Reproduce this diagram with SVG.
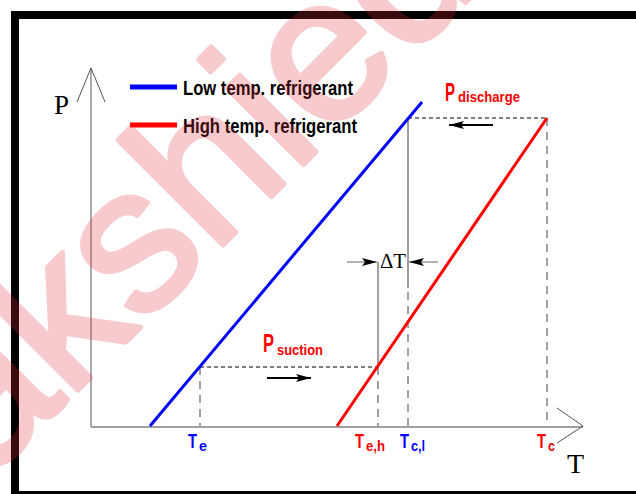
<svg xmlns="http://www.w3.org/2000/svg" width="636" height="494" viewBox="0 0 636 494">
<style>
.frame{fill:#000}
.axis{stroke:#555;stroke-width:1;fill:none}
.xaxis{stroke:#a0a0a0;stroke-width:2;fill:none}
.guide{stroke:#a0a0a0;stroke-width:2;fill:none}
.gdash{stroke:#a0a0a0;stroke-width:2;fill:none;stroke-dasharray:8 6}
.hdash{stroke:#000;stroke-width:1;fill:none;stroke-dasharray:4 3}
.blue{stroke:#0000ff;stroke-width:3;fill:none}
.red{stroke:#ff0000;stroke-width:3;fill:none}
.arr{stroke:#000;stroke-width:2;fill:none}
.dim{stroke:#999;stroke-width:1.5;fill:none}
.leg{font-family:"Liberation Sans",Arial,sans-serif;font-size:20px;font-weight:bold;fill:#000}
.serif{font-family:"Liberation Serif","Times New Roman",serif;fill:#000}
.lab{font-family:"Liberation Sans",Arial,sans-serif;font-weight:bold}
.rd{fill:#ff0000}
.bl{fill:#0000ff}
.wm{font-family:"Liberation Sans",Arial,sans-serif;font-size:205px;fill:#e0303c;stroke:#e0303c;stroke-width:5;stroke-linejoin:round;opacity:0.25}
</style>
<defs>
<marker id="ahd" viewBox="0 0 15 8" refX="15" refY="4" markerWidth="15" markerHeight="8" markerUnits="userSpaceOnUse" orient="auto">
<path d="M0,0 L15,4 L0,8 L3,4 Z" fill="#000"/>
</marker>
</defs>

<g id="frame">
<rect class="frame" x="11" y="11" width="625" height="8"/>
<rect class="frame" x="11" y="11" width="8" height="483"/>
<rect class="frame" x="11" y="491" width="625" height="3"/>
</g>

<g id="axes">
<line class="axis" x1="91" y1="68" x2="91" y2="427"/>
<polyline class="axis" points="77,102 91,68 105,102"/>
<line class="xaxis" x1="91" y1="427" x2="583" y2="427"/>
<polyline class="axis" points="557,408 583,426 557,443"/>
<text class="serif" x="54" y="114" font-size="27">P</text>
<text class="serif" x="567" y="473" font-size="28">T</text>
</g>

<g id="legend">
<line x1="130" y1="87" x2="177" y2="87" stroke="#0000ff" stroke-width="5"/>
<text class="leg" x="183" y="95" textLength="170" lengthAdjust="spacingAndGlyphs">Low temp. refrigerant</text>
<line x1="130" y1="125" x2="177" y2="125" stroke="#ff0000" stroke-width="5"/>
<text class="leg" x="183" y="133" textLength="174" lengthAdjust="spacingAndGlyphs">High temp. refrigerant</text>
</g>

<g id="connectors">
<line class="gdash" x1="200" y1="367" x2="200" y2="427"/>
<line class="guide" x1="378" y1="262" x2="378" y2="367"/>
<line class="gdash" x1="378" y1="367" x2="378" y2="427"/>
<line class="guide" x1="408" y1="118" x2="408" y2="288"/>
<line class="gdash" x1="408" y1="292" x2="408" y2="427"/>
<line class="gdash" x1="547" y1="118" x2="547" y2="427"/>
<line class="hdash" x1="200" y1="367" x2="378" y2="367"/>
<line class="hdash" x1="408" y1="118" x2="547" y2="118"/>
<line class="arr" x1="493" y1="125" x2="449" y2="125" marker-end="url(#ahd)"/>
<line class="arr" x1="267" y1="378" x2="311" y2="378" marker-end="url(#ahd)"/>
<line class="dim" x1="347" y1="262" x2="377" y2="262" marker-end="url(#ahd)"/>
<line class="dim" x1="438" y1="262" x2="409" y2="262" marker-end="url(#ahd)"/>
</g>

<g id="low-temp-line">
<line class="blue" x1="150" y1="426" x2="422" y2="102"/>
</g>
<g id="high-temp-line">
<line class="red" x1="337" y1="426" x2="547" y2="118"/>
</g>

<g id="p-discharge">
<text class="lab rd" x="445" y="101" font-size="25" textLength="10" lengthAdjust="spacingAndGlyphs">P</text>
<text class="lab rd" x="458" y="102" font-size="15" textLength="62" lengthAdjust="spacingAndGlyphs">discharge</text>
</g>
<g id="p-suction">
<text class="lab rd" x="263" y="352" font-size="25" textLength="11" lengthAdjust="spacingAndGlyphs">P</text>
<text class="lab rd" x="277" y="355" font-size="15" textLength="46" lengthAdjust="spacingAndGlyphs">suction</text>
</g>
<g id="delta-t">
<text class="serif" x="380" y="268" font-size="22" textLength="26" lengthAdjust="spacingAndGlyphs">ΔT</text>
</g>

<g id="t-e">
<text class="lab bl" x="188" y="448" font-size="21" textLength="9" lengthAdjust="spacingAndGlyphs">T</text>
<text class="lab bl" x="199" y="451" font-size="14" textLength="8" lengthAdjust="spacingAndGlyphs">e</text>
</g>
<g id="t-eh">
<text class="lab rd" x="355" y="448" font-size="21" textLength="9" lengthAdjust="spacingAndGlyphs">T</text>
<text class="lab rd" x="366" y="451" font-size="14" textLength="19" lengthAdjust="spacingAndGlyphs">e,h</text>
</g>
<g id="t-cl">
<text class="lab bl" x="400" y="448" font-size="21" textLength="9" lengthAdjust="spacingAndGlyphs">T</text>
<text class="lab bl" x="411" y="451" font-size="14" textLength="14" lengthAdjust="spacingAndGlyphs">c,l</text>
</g>
<g id="t-c">
<text class="lab rd" x="537" y="448" font-size="21" textLength="9" lengthAdjust="spacingAndGlyphs">T</text>
<text class="lab rd" x="548" y="451" font-size="14" textLength="7" lengthAdjust="spacingAndGlyphs">c</text>
</g>

<g id="watermark">
<text class="wm" transform="translate(-85,553) rotate(-45)">sakshieducation</text>
</g>
</svg>
